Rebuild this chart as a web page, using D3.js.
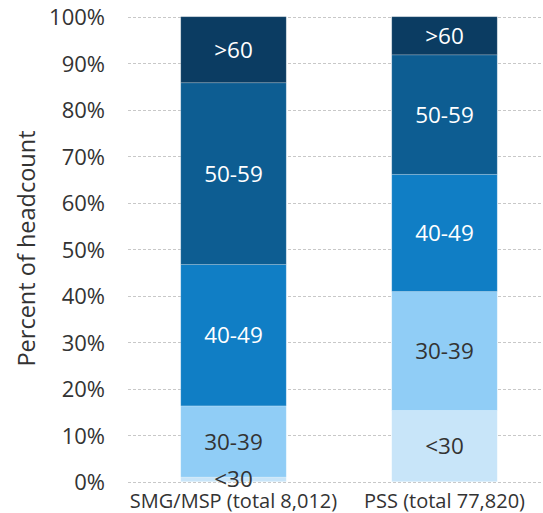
<!DOCTYPE html>
<html>
<head>
<meta charset="utf-8">
<script src="https://cdn.jsdelivr.net/npm/d3@7"></script>
<style>
  html, body { margin: 0; padding: 0; background: #fff; }
  svg, svg text { font-family: "Open Sans", "Noto Sans", sans-serif; }
  svg { display: block; }
</style>
</head>
<body>
<svg id="chart" width="543" height="513"></svg>
<script>
// ---- data ----
const categories = ["SMG/MSP (total 8,012)", "PSS (total 77,820)"];
const ageGroups = ["<30", "30-39", "40-49", "50-59", ">60"];
const smgValues = [1.0, 15.3, 30.4, 39.1, 14.2];
const pssValues = [15.3, 25.6, 25.2, 25.7, 8.2];
const yTicks = [0, 10, 20, 30, 40, 50, 60, 70, 80, 90, 100];
const groupColors = ["#c8e5f9", "#90cdf6", "#107ec5", "#0d5d92", "#0b3c62"];
const labelColors = ["#333333", "#333333", "#ffffff", "#ffffff", "#ffffff"];
const yTitle = "Percent of headcount";

const seriesByCat = [smgValues, pssValues];

const svg = d3.select("#chart");
const W = 543, H = 513;
const plotLeft = 128, plotRight = 550, plotTop = 16.7, plotBottom = 481.7;

const y = d3.scaleLinear().domain([0, 100]).range([plotBottom, plotTop]);
const x = d3.scaleBand().domain(categories).range([plotLeft, plotRight])
  .paddingInner(0.5).paddingOuter(0.25);

// build stacked rows
const rows = categories.map((c, i) => {
  const r = { cat: c };
  ageGroups.forEach((g, j) => r[g] = seriesByCat[i][j]);
  return r;
});
const stack = d3.stack().keys(ageGroups)(rows);

// gridlines
const grid = svg.append("g");
grid.selectAll("line").data(yTicks).join("line")
  .attr("x1", plotLeft).attr("x2", W)
  .attr("y1", d => Math.round(y(d)) + 0.5).attr("y2", d => Math.round(y(d)) + 0.5)
  .attr("stroke", "#c8c8c8").attr("stroke-width", 1)
  .attr("stroke-dasharray", "3,2");

// y axis labels
const yAxis = svg.append("g").attr("transform", `translate(${105},0)`)
  .call(d3.axisLeft(y).tickValues(yTicks).tickSize(0).tickPadding(0).tickFormat(d => d + "%"))
  .attr("font-family", null).attr("font-size", null);
yAxis.select(".domain").remove();
yAxis.selectAll("text").attr("fill", "#333").attr("font-size", 22).attr("dy", "0.36em");

// bars
const layers = svg.append("g").selectAll("g").data(stack).join("g")
  .attr("fill", (d, i) => groupColors[i]);
layers.selectAll("rect").data(d => d).join("rect")
  .attr("x", d => x(d.data.cat))
  .attr("width", x.bandwidth())
  .attr("y", d => y(d[1]))
  .attr("height", d => y(d[0]) - y(d[1]))
  .attr("stroke", "rgba(255,255,255,0.25)")
  .attr("stroke-width", 0.8);

// bar labels
const lab = svg.append("g");
stack.forEach((layer, i) => {
  lab.selectAll(null).data(layer).join("text")
    .attr("x", d => x(d.data.cat) + x.bandwidth() / 2)
    .attr("y", d => (y(d[0]) + y(d[1])) / 2)
    .attr("dy", "0.36em")
    .attr("text-anchor", "middle")
    .attr("font-size", 22.5)
    .attr("fill", labelColors[i])
    .text(ageGroups[i]);
});

// x axis labels
const xAxis = svg.append("g").attr("transform", `translate(0,${plotBottom})`)
  .call(d3.axisBottom(x).tickSize(0).tickPadding(0))
  .attr("font-family", null).attr("font-size", null);
xAxis.select(".domain").remove();
xAxis.selectAll("text").attr("fill", "#333").attr("font-size", 20).attr("y", 26.3).attr("dy", 0);

// y title
svg.append("text")
  .attr("transform", `translate(35,248.5) rotate(-90)`)
  .attr("text-anchor", "middle")
  .attr("font-size", 23.5)
  .attr("fill", "#333")
  .text(yTitle);
</script>
</body>
</html>
